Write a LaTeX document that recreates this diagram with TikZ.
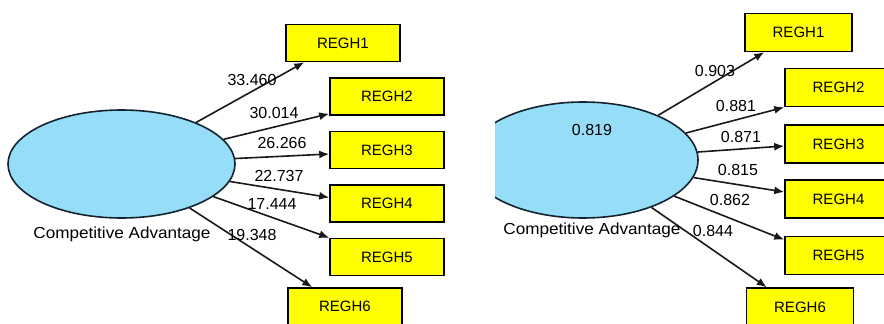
\documentclass[tikz,border=0pt]{standalone}
\usepackage{fontspec}
\setmainfont{Liberation Sans}
\usetikzlibrary{arrows.meta,shapes.geometric}
\definecolor{boxyellow}{RGB}{255,255,0}
\definecolor{lvblue}{RGB}{150,222,248}
\definecolor{lvborder}{RGB}{20,35,50}
\definecolor{arrowgray}{RGB}{25,25,25}
\begin{document}
\begin{tikzpicture}[x=1pt,y=-1pt,
  ind/.style={draw=black,line width=1.5pt,fill=boxyellow,inner sep=0pt,
    minimum width=114pt,minimum height=37pt,font=\fontsize{15}{15}\selectfont},
  indr/.style={ind,minimum width=107pt,minimum height=38pt},
  lv/.style={ellipse,draw=lvborder,line width=1.6pt,fill=lvblue,inner sep=0pt},
  arr/.style={draw=arrowgray,line width=1.6pt,-{Latex[length=10pt,width=8pt]}},
  lbl/.style={inner sep=0pt,font=\fontsize{16}{16}\selectfont},
  lvlbl/.style={inner sep=0pt,font=\fontsize{16}{16}\selectfont,xscale=1.07}]
\useasboundingbox[fill=white] (0,0) rectangle (884,324);
% ---------- left panel ----------
\node[lv,minimum width=227pt,minimum height=108pt] (e1) at (121.5,164) {};
\node[ind] (a1) at (343,43) {REGH1};
\node[ind] (a2) at (387,96.5) {REGH2};
\node[ind] (a3) at (387,150) {REGH3};
\node[ind] (a4) at (387,203.5) {REGH4};
\node[ind] (a5) at (387,257) {REGH5};
\node[ind] (a6) at (345,306.5) {REGH6};
\draw[arr] (e1) -- ([xshift=19pt]a1.south west);
\draw[arr] (e1) -- ([yshift=2pt]a2.south west);
\draw[arr] (e1) -- ([yshift=-4pt]a3.west);
\draw[arr] (e1) -- ([yshift=6pt]a4.west);
\draw[arr] (e1) -- (a5.north west);
\draw[arr] (e1) -- ([xshift=25pt]a6.north west);
\node[lbl] (la1) at (252,80) {33.460};
\node[lbl] (la2) at (274,113) {30.014};
\node[lbl] (la3) at (282,143) {26.266};
\node[lbl] (la4) at (279,176) {22.737};
\node[lbl] (la5) at (272,204) {17.444};
\node[lbl] (la6) at (252,235) {19.348};
\node[lvlbl] (n1) at (122,234) {Competitive Advantage};
% ---------- right panel ----------
\begin{scope}
\clip (495,0) rectangle (884,324);
\node[lv,minimum width=230pt,minimum height=116pt] (e2) at (583,160) {};
\end{scope}
\node[indr] (b1) at (798.5,32.5) {REGH1};
\node[indr] (b2) at (838.5,87.5) {REGH2};
\node[indr] (b3) at (838.5,144) {REGH3};
\node[indr] (b4) at (838.5,199) {REGH4};
\node[indr] (b5) at (838.5,255.5) {REGH5};
\node[indr] (b6) at (800,307) {REGH6};
\draw[arr] (e2) -- ([xshift=20pt]b1.south west);
\draw[arr] (e2) -- (b2.south west);
\draw[arr] (e2) -- ([yshift=-2pt]b3.west);
\draw[arr] (e2) -- ([yshift=7pt]b4.west);
\draw[arr] (e2) -- ([yshift=-4pt]b5.north west);
\draw[arr] (e2) -- ([xshift=21pt]b6.north west);
\node[lbl] (lb1) at (715,71) {0.903};
\node[lbl] (lb2) at (736,106) {0.881};
\node[lbl] (lb3) at (741,137) {0.871};
\node[lbl] (lb4) at (738,170) {0.815};
\node[lbl] (lb5) at (730,200) {0.862};
\node[lbl] (lb6) at (713,231) {0.844};
\node[lbl] (r2) at (592,130) {0.819};
\node[lvlbl] (n2) at (592,230) {Competitive Advantage};
\end{tikzpicture}
\end{document}
